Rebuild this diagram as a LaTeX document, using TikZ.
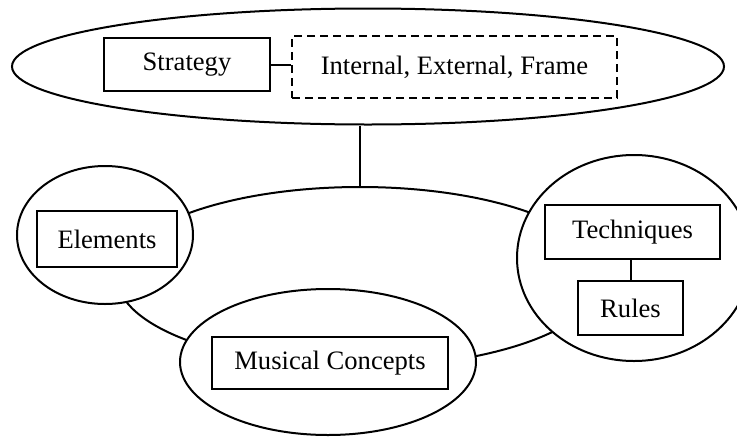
\documentclass[tikz,border=0pt]{standalone}
\usepackage{fontspec}
\setmainfont{Liberation Serif}
\usetikzlibrary{shapes.geometric}
\begin{document}
\begin{tikzpicture}[x=1pt,y=-1pt,
  line width=2pt,
  oval/.style={draw, ellipse, inner sep=0pt, fill=white},
  labelbox/.style={draw, rectangle, inner sep=0pt, fill=white, line width=2pt,
    font=\fontsize{26.6}{30}\selectfont},
  dashbox/.style={labelbox, dash pattern=on 8pt off 5pt},
  link/.style={draw, line width=2pt}]
\clip (0,0) rectangle (737,437);
\fill[white] (0,0) rectangle (737,437);
% ovals
\node[oval, minimum width=712pt, minimum height=116pt] (top) at (368,66.5) {};
\node[oval, fill=none, minimum width=486pt, minimum height=180pt] (mid) at (360,277) {};
\node[oval, minimum width=176pt, minimum height=138pt] (elov) at (105,235) {};
\node[oval, minimum width=234pt, minimum height=206pt] (teov) at (634,258) {};
\node[oval, minimum width=296pt, minimum height=146pt] (muov) at (328,362) {};
% boxes
\node[labelbox, minimum width=166pt, minimum height=53pt] (strat) at (187,64.5) {Strategy};
\node[dashbox, minimum width=325pt, minimum height=62pt] (types) at (454.5,67) {Internal, External, Frame};
\node[labelbox, minimum width=140pt, minimum height=56pt] (elem) at (107,239) {Elements};
\node[labelbox, minimum width=175pt, minimum height=54pt] (tech) at (632.5,232) {Techniques};
\node[labelbox, minimum width=105pt, minimum height=54pt] (rules) at (630.5,308) {Rules};
\node[labelbox, minimum width=236pt, minimum height=52pt] (music) at (330,363) {Musical Concepts};
% connectors
\draw[link] (strat.east) -- (strat.east -| types.west);
\draw[link] (top.south -| mid.north) -- (mid.north);
\draw[link] (tech.south -| rules.north) -- (rules.north);
\end{tikzpicture}
\end{document}
